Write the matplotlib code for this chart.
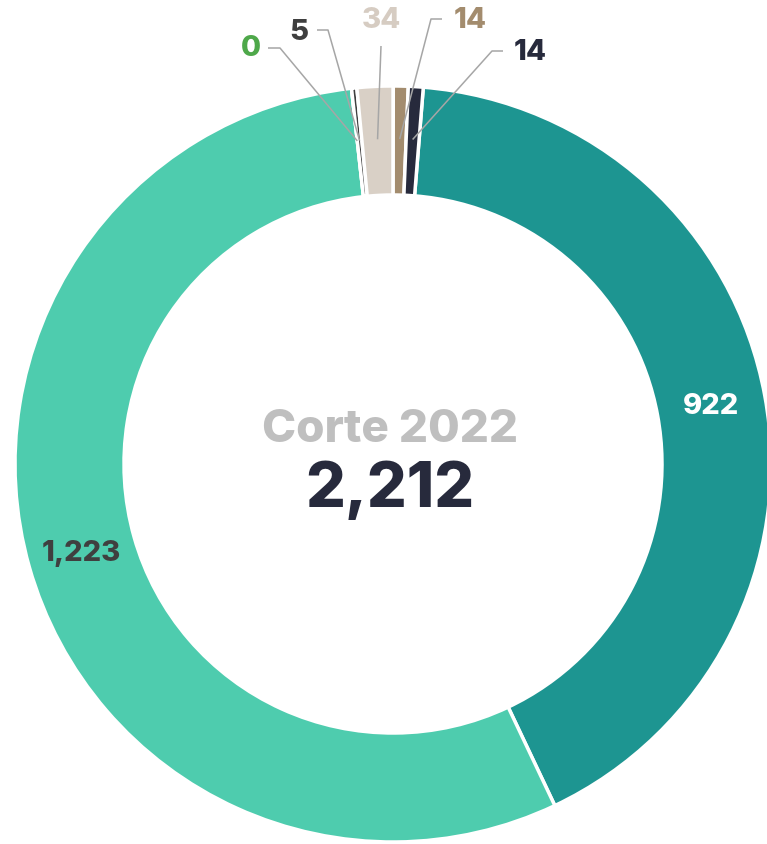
"""
Donut chart - Corte 2022
"""

import numpy as np
import matplotlib
matplotlib.use("Agg")
import matplotlib.pyplot as plt

# Data (clockwise from the top)
values = [922, 1223, 0, 5, 34, 14, 14]
labels = ['922', '1,223', '0', '5', '34', '14', '14']
slice_colors = ['#1D9591', '#4ECCAE', '#4EA84A', '#3F3F3F', '#D9D0C6', '#A38C6E', '#272A3C']
label_colors = ['#FFFFFF', '#3F3F3F', '#4EA84A', '#3F3F3F', '#D6CCC2', '#A38C6E', '#272A3C']
total_label = '2,212'
title = 'Corte 2022'

# Outside labels for the small slices: text position and elbow of the leader line (pixels)
outside_text = {2: (251, 48), 3: (299, 32), 4: (381, 21), 5: (470, 21), 6: (530, 53)}
outside_elbow = {2: [(268, 49), (280, 49)], 3: [(317, 31), (328, 31)], 4: [(381, 47)],
                 5: [(442, 20), (431, 20)], 6: [(503, 52), (492, 52)]}

W, H = 767, 845
cx, cy = 393, 465
R, r_in = 378, 269

plt.rcParams['font.family'] = ['Inter', 'Lato', 'DejaVu Sans']
WEIGHT = 'heavy'

fig = plt.figure(figsize=(W / 100, H / 100), dpi=100)
ax = fig.add_axes([0, 0, 1, 1])

# y is inverted below, so counterclock=True draws visually clockwise
wedges, _ = ax.pie(values, colors=slice_colors, startangle=-85.4, counterclock=True,
                   center=(cx, cy), radius=R, frame=True,
                   wedgeprops=dict(width=R - r_in, edgecolor='white', linewidth=2.5))
ax.set_xlim(0, W)
ax.set_ylim(H, 0)  # pixel coordinates, y down
ax.set_aspect('equal')
ax.axis('off')

r_lab = (R + r_in) / 2
for i, w in enumerate(wedges):
    mid = np.deg2rad((w.theta1 + w.theta2) / 2)
    if i in outside_text:
        ax_r = 0.86 * R
        anchor = (cx + ax_r * np.cos(mid), cy + ax_r * np.sin(mid))
        pts = outside_elbow[i] + [anchor]
        xs, ys = zip(*pts)
        ax.plot(xs, ys, color='#A6A6A6', lw=1.1, solid_capstyle='butt')
        tx, ty = outside_text[i]
        ax.text(tx, ty, labels[i], color=label_colors[i], fontsize=21, fontweight=WEIGHT,
                ha='center', va='center')
    else:
        x = cx + r_lab * np.cos(mid)
        y = cy + r_lab * np.sin(mid)
        ax.text(x, y, labels[i], color=label_colors[i], fontsize=21, fontweight=WEIGHT,
                ha='center', va='center')

ax.text(cx - 3, 430, title, color='#BFBFBF', fontsize=33, fontweight=WEIGHT,
        ha='center', va='center')
ax.text(cx - 3, 490, total_label, color='#272A3C', fontsize=45, fontweight=WEIGHT,
        ha='center', va='center')

fig.savefig('out.png', dpi=100)
